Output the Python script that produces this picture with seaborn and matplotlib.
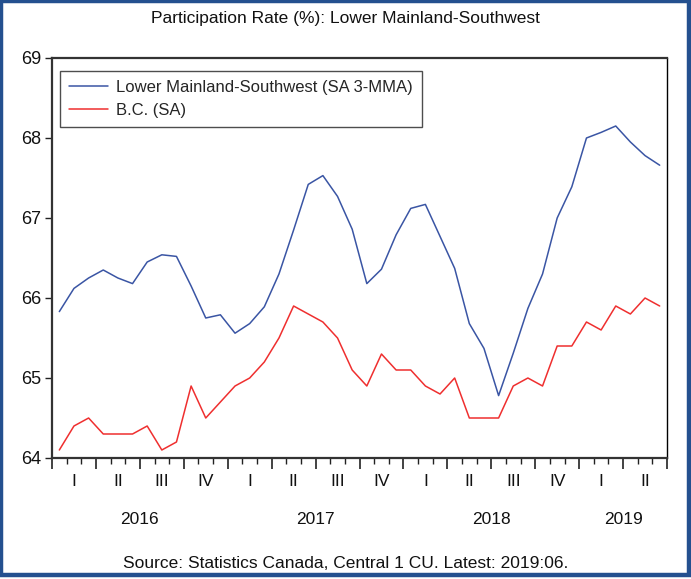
import matplotlib
matplotlib.use("Agg")
import matplotlib.pyplot as plt
import seaborn as sns
import pandas as pd
import numpy as np
from matplotlib.patches import Rectangle

# ---- data (monthly, Jan 2016 .. Jun 2019) ----
months = pd.period_range("2016-01", "2019-06", freq="M").astype(str).tolist()
lower_mainland = [65.83, 66.12, 66.25, 66.35, 66.25, 66.18, 66.45, 66.54, 66.52, 66.15,
                  65.75, 65.79, 65.56, 65.68, 65.89, 66.30, 66.85, 67.42, 67.53, 67.27,
                  66.86, 66.18, 66.36, 66.79, 67.12, 67.17, 66.77, 66.37, 65.68, 65.37,
                  64.78, 65.31, 65.87, 66.30, 67.00, 67.39, 68.00, 68.07, 68.15, 67.95,
                  67.78, 67.66]
bc = [64.1, 64.4, 64.5, 64.3, 64.3, 64.3, 64.4, 64.1, 64.2, 64.9,
      64.5, 64.7, 64.9, 65.0, 65.2, 65.5, 65.9, 65.8, 65.7, 65.5,
      65.1, 64.9, 65.3, 65.1, 65.1, 64.9, 64.8, 65.0, 64.5, 64.5,
      64.5, 64.9, 65.0, 64.9, 65.4, 65.4, 65.7, 65.6, 65.9, 65.8,
      66.0, 65.9]
series_names = ["Lower Mainland-Southwest (SA 3-MMA)", "B.C. (SA)"]
series_colors = ["#3a55a4", "#ef2f2f"]
quarter_labels = ["I", "II", "III", "IV"]
years = ["2016", "2017", "2018", "2019"]
y_ticks = [64, 65, 66, 67, 68, 69]
title = "Participation Rate (%): Lower Mainland-Southwest"
source = "Source: Statistics Canada, Central 1 CU. Latest: 2019:06."

n = len(months)
pos = np.arange(n) + 0.5
df = pd.DataFrame({
    "pos": np.concatenate([pos, pos]),
    "value": lower_mainland + bc,
    "series": [series_names[0]] * n + [series_names[1]] * n,
})

sns.set_theme(style="white")
plt.rcParams["font.family"] = ["Liberation Sans Narrow", "Liberation Sans", "DejaVu Sans"]

fig = plt.figure(figsize=(6.91, 5.79), dpi=100)
ax = fig.add_axes([52 / 691, 1 - 458 / 579, 615 / 691, 400 / 579])

sns.lineplot(data=df, x="pos", y="value", hue="series", palette=series_colors,
             hue_order=series_names, ax=ax, linewidth=1.1, legend=True)

ax.set_xlim(0, n)
ax.set_ylim(64, 69)
ax.set_yticks(y_ticks)
ax.set_yticklabels([str(t) for t in y_ticks], fontsize=13, color="#111111")
ax.set_xticks(np.arange(0, n + 1, 3))
ax.set_xticklabels([])
ax.set_xticks(np.arange(0, n + 1, 1), minor=True)
ax.tick_params(axis="x", which="major", length=8, width=1.2, color="#222222", direction="out", bottom=True)
ax.tick_params(axis="x", which="minor", length=4, width=1.0, color="#222222", direction="out", bottom=True)
ax.tick_params(axis="y", which="major", length=5, width=1.0, color="#222222", direction="out", left=True, pad=3)
ax.set_xlabel("")
ax.set_ylabel("")

for side in ["left", "bottom", "top"]:
    ax.spines[side].set_linewidth(1.6)
    ax.spines[side].set_color("#333333")
ax.spines["right"].set_linewidth(1.0)
ax.spines["right"].set_color("#000000")

trans = ax.get_xaxis_transform()
for q in range(n // 3):
    ax.text(q * 3 + 1.5, -23 / 400, quarter_labels[q % 4], transform=trans,
            ha="center", va="center", fontsize=12.5, color="#111111")
for k, yr in enumerate(years):
    start = k * 12
    end = min(start + 12, n)
    ax.text((start + end) / 2, -61 / 400, yr, transform=trans,
            ha="center", va="center", fontsize=12.5, color="#111111")

leg = ax.legend(loc="upper left", bbox_to_anchor=(8 / 615, 1 - 13 / 400), borderaxespad=0,
                frameon=True, fancybox=False, fontsize=12, handlelength=2.3,
                handletextpad=0.5, borderpad=0.55, labelspacing=0.45)
leg.get_frame().set_edgecolor("#222222")
leg.get_frame().set_linewidth(1.0)
for line in leg.get_lines():
    line.set_linewidth(1.1)

fig.text(0.5, 1 - 18 / 579, title, ha="center", va="center", fontsize=12.5, color="#111111")
fig.text(0.5, 1 - 563 / 579, source, ha="center", va="center", fontsize=12.5, color="#111111")

# outer blue border
fig.patches.append(Rectangle((0.5 / 691, 4 / 579), 688 / 691, 574 / 579, transform=fig.transFigure,
                             fill=False, edgecolor="#24508f", linewidth=3.2))

fig.savefig("out.png", dpi=100)
